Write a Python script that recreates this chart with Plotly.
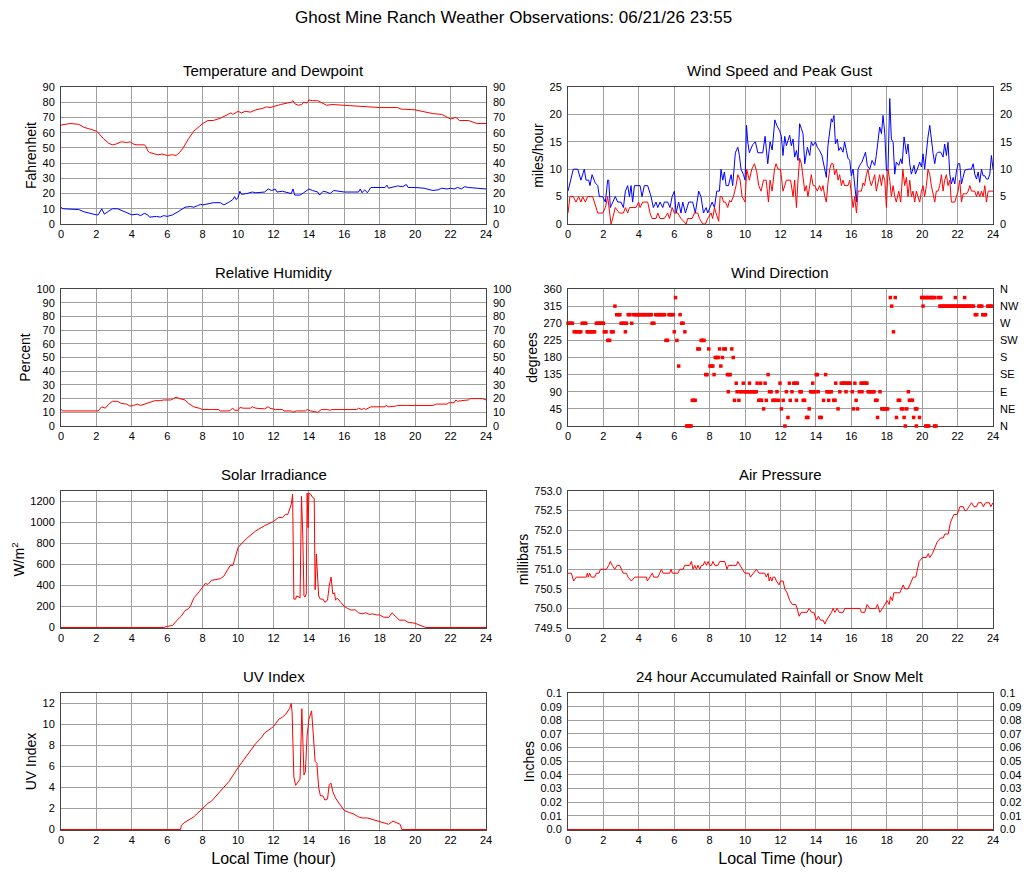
import plotly.graph_objects as go

# ---------------- DATA ----------------
temp_t = [0, 0.5, 1.0, 1.3, 1.6, 2.0, 2.1, 2.4, 2.7, 2.9, 3.1, 3.4, 3.7, 3.9, 4.1, 4.3, 4.7, 4.8, 4.9, 5.0,
          5.3, 5.5, 5.7, 5.9, 6.0, 6.3, 6.5, 6.7, 6.9, 7.2, 7.5, 7.8, 8.0, 8.3, 8.6, 9.0, 9.3, 9.6, 9.7, 10.0,
          10.2, 10.4, 10.7, 11.0, 11.4, 11.6, 11.8, 12.0, 12.4, 12.8, 13.0, 13.1, 13.2, 13.4, 13.6, 13.7, 13.9,
          14.0, 14.2, 14.5, 14.8, 15.0, 15.3, 16.0, 17.0, 18.0, 19.0, 19.2, 20.0, 20.5, 21.0, 21.5, 22.0, 22.3,
          22.5, 23.0, 23.5, 24.0]
temp_f = [65, 66, 65.5, 63.5, 62.5, 61, 60, 56, 53, 52, 52.5, 54, 53.5, 54, 52.5, 52, 52, 51, 48, 47,
          46, 45.5, 46, 45, 45, 45.5, 45, 47, 50, 56, 61, 64, 66, 68, 68, 69.5, 71, 73, 72, 74,
          73, 74, 73.5, 75, 76, 77, 76.5, 77, 78.5, 79.5, 80, 81, 79, 78, 78.5, 80, 79.5,
          81.5, 81, 81, 79, 78, 78.5, 78, 77, 76.5, 76.5, 75.5, 75, 74, 72.5, 72, 69, 70,
          68, 68, 66, 66]

dew_t = [0, 0.1, 1.0, 1.3, 2.0, 2.1, 2.3, 2.45, 2.7, 2.9, 3.2, 3.5, 3.8, 4.0, 4.3, 4.5, 4.7, 4.9, 5.0, 5.4,
         5.6, 5.8, 6.0, 6.3, 6.6, 6.9, 7.0, 7.3, 7.5, 7.7, 7.9, 8.0, 8.3, 8.6, 9.0, 9.2, 9.5, 9.7, 9.8, 9.9,
         10.0, 10.1, 10.2, 10.5, 10.8, 11.0, 11.5, 11.7, 11.9, 12.1, 12.2, 12.5, 13.0, 13.1, 13.2, 13.5, 13.7,
         14.0, 14.2, 14.5, 14.6, 14.8, 15.0, 15.2, 15.4, 16.0, 16.5, 16.8, 16.9, 17.0, 17.15, 17.3, 17.5, 18.0,
         18.3, 18.4, 18.5, 19.0, 19.3, 19.5, 19.6, 20.0, 20.5, 21.0, 21.3, 21.5, 21.8, 22.0, 22.2, 22.4, 22.6,
         22.8, 23.0, 23.5, 24.0]
dew_f = [11, 10, 9.5, 8, 6, 6, 10, 6.5, 8.5, 10, 10, 8.5, 7.5, 6, 6.5, 5.5, 7, 6, 4.5, 5,
         4.5, 5.5, 5, 6, 8, 10, 11, 11.5, 11, 12, 13, 12.5, 13.5, 14, 14, 12.5, 14.5, 16, 18, 16,
         17.5, 21.5, 19.5, 20, 21, 20.5, 21, 23, 22, 23, 21, 21.5, 20, 23, 19, 19, 20.5,
         23, 22, 21, 19, 21.5, 21, 20, 22, 21, 21, 21, 23, 20.5, 22.5, 20.5, 24, 24,
         24, 25.5, 23.5, 25, 24.5, 26, 24, 24, 23.5, 22, 22.5, 23.5, 23, 23.5, 23, 24, 23,
         24.5, 24, 23.5, 23]

gust_t = [0, 0.17, 0.3, 0.55, 0.73, 0.92, 1.02, 1.17, 1.24, 1.36, 1.54, 1.68, 1.77, 1.96, 2.11, 2.24, 2.3, 2.39,
          2.52, 2.67, 2.81, 2.99, 3.13, 3.24, 3.37, 3.47, 3.56, 3.65, 3.75, 3.94, 4.07, 4.18, 4.31, 4.5, 4.69,
          4.82, 4.97, 5.07, 5.2, 5.35, 5.44, 5.63, 5.76, 5.88, 6.01, 6.1, 6.25, 6.38, 6.48, 6.63, 6.82, 7.04,
          7.19, 7.38, 7.51, 7.65, 7.8, 7.89, 8.02, 8.14, 8.27, 8.4, 8.55, 8.64, 8.74, 8.83, 8.93, 9.06, 9.21,
          9.3, 9.45, 9.59, 9.68, 9.77, 9.91, 10.0, 10.08, 10.15, 10.24, 10.43, 10.58, 10.72, 11.0, 11.13, 11.28,
          11.41, 11.53, 11.68, 11.79, 11.95, 12.05, 12.14, 12.24, 12.33, 12.42, 12.52, 12.61, 12.71, 12.8, 12.9,
          12.99, 13.08, 13.18, 13.27, 13.37, 13.52, 13.65, 13.74, 13.84, 13.97, 14.08, 14.21, 14.34, 14.5, 14.59,
          14.68, 14.78, 14.87, 14.93, 15.02, 15.1, 15.21, 15.29, 15.4, 15.53, 15.62, 15.72, 15.81, 15.91, 16.0,
          16.1, 16.19, 16.29, 16.38, 16.47, 16.6, 16.72, 16.8, 16.9, 17.04, 17.17, 17.32, 17.41, 17.51, 17.6,
          17.7, 17.79, 17.89, 17.98, 18.07, 18.17, 18.26, 18.36, 18.45, 18.54, 18.68, 18.79, 18.87, 18.98, 19.11,
          19.2, 19.3, 19.39, 19.54, 19.62, 19.77, 19.86, 19.96, 20.05, 20.14, 20.24, 20.33, 20.43, 20.52, 20.62,
          20.71, 20.8, 20.9, 21.05, 21.18, 21.27, 21.37, 21.46, 21.56, 21.65, 21.75, 21.84, 21.93, 22.03, 22.12,
          22.22, 22.31, 22.41, 22.6, 22.78, 22.88, 22.97, 23.07, 23.16, 23.25, 23.35, 23.44, 23.54, 23.63, 23.73,
          23.82, 23.91, 24.0]
gust_mph = [6, 8.5, 10, 10, 8, 10, 8, 8, 7, 9, 7.5, 7, 5, 5, 4, 8, 8, 3,
            4, 5, 4, 4, 3, 6, 7, 5, 7, 4, 7, 7, 7, 5, 7, 7, 5,
            3, 4, 3, 4, 3, 4, 4, 3, 5, 6, 2, 4, 2, 4, 2, 4, 4,
            2, 6, 5, 2, 3, 2, 3, 4, 3, 6, 6, 10, 8, 9.5, 7, 7, 9,
            7, 13, 14, 12.5, 10, 9, 8, 18, 15, 13, 14.5, 15, 13, 13, 16, 11,
            15, 13.5, 19, 18, 17, 16, 12.5, 16, 14.3, 15.2, 16.2, 14.3, 15.5, 12.2, 13.4,
            11.6, 18.3, 17.4, 16.5, 11, 14, 12.5, 15, 14.3, 15, 14, 13.4, 12.5, 9.8, 8.5,
            14.3, 16.5, 19.2, 18.6, 19.8, 14.6, 15.5, 13.4, 14, 13.1, 15, 13.4, 12, 11.6, 8.8,
            10, 7.3, 4, 10, 10.7, 11.3, 12.2, 13.1, 10.7, 10, 11.6, 10.7, 12.5, 15.5, 17.7,
            16.5, 19.8, 16.5, 9.8, 9.8, 22.9, 15.5, 14.9, 9.1, 11.3, 10.7, 11.9, 11, 15.9, 12.8,
            14.6, 11, 9.1, 10.7, 9.1, 10.4, 11.3, 10.4, 12.8, 10, 13.4, 15.9, 18, 15.2, 12.8,
            11, 12.8, 13.1, 13.1, 12.2, 14.6, 12.5, 14.9, 9.1, 7.3, 8.5, 7.3, 9.5, 11, 11,
            7.3, 8.5, 9.8, 10, 10, 11, 9.1, 8.2, 9.5, 7.6, 10, 8.8, 8.8, 8.2, 8.2,
            9.1, 12.5, 10]

wind_t = [0, 0.11, 0.3, 0.45, 0.6, 0.73, 0.83, 0.98, 1.11, 1.39, 1.49, 1.68, 1.96, 2.11, 2.24, 2.3, 2.43, 2.52,
          2.67, 2.9, 3.13, 3.24, 3.37, 3.47, 3.65, 3.84, 3.99, 4.07, 4.22, 4.5, 4.63, 4.75, 4.97, 5.07, 5.2,
          5.44, 5.63, 5.73, 5.88, 6.01, 6.2, 6.38, 6.67, 6.76, 7.01, 7.14, 7.33, 7.42, 7.61, 7.76, 7.89, 8.08,
          8.17, 8.27, 8.36, 8.51, 8.59, 8.7, 8.78, 8.89, 9.02, 9.12, 9.21, 9.34, 9.49, 9.59, 9.72, 9.83, 10.0,
          10.09, 10.24, 10.38, 10.53, 10.66, 10.77, 10.9, 11.04, 11.19, 11.32, 11.41, 11.53, 11.66, 11.75, 11.86,
          12.0, 12.14, 12.24, 12.33, 12.57, 12.71, 12.8, 12.9, 12.99, 13.08, 13.18, 13.27, 13.37, 13.46, 13.55,
          13.65, 13.74, 13.84, 13.93, 14.08, 14.21, 14.31, 14.4, 14.5, 14.59, 14.68, 14.78, 14.87, 14.97, 15.06,
          15.16, 15.25, 15.34, 15.44, 15.53, 15.62, 15.81, 15.91, 16.0, 16.1, 16.19, 16.29, 16.38, 16.57, 16.66,
          16.75, 16.85, 16.94, 17.04, 17.13, 17.23, 17.32, 17.41, 17.51, 17.6, 17.7, 17.79, 17.89, 17.98, 18.07,
          18.17, 18.26, 18.36, 18.45, 18.54, 18.68, 18.79, 18.91, 19.01, 19.11, 19.2, 19.3, 19.39, 19.48, 19.58,
          19.67, 19.77, 19.86, 19.96, 20.05, 20.14, 20.24, 20.33, 20.43, 20.52, 20.62, 20.71, 20.8, 20.9, 20.99,
          21.09, 21.18, 21.27, 21.37, 21.46, 21.56, 21.65, 21.84, 22.03, 22.12, 22.22, 22.31, 22.5, 22.6, 22.69,
          22.78, 22.97, 23.07, 23.16, 23.25, 23.35, 23.44, 23.54, 23.63, 23.73, 24.0]
wind_mph = [2, 5, 5, 4, 5, 4, 5, 4, 5, 5, 4, 2, 2, 3, 5, 3, 0, 1,
            3, 2, 2, 3, 2, 3, 3, 3, 4, 3, 4, 4, 2, 1, 1, 2, 1,
            1, 2, 1, 3, 2, 2, 1, 0, 1, 1, 2, 2, 1, 0, 0, 1, 2,
            1, 3, 2, 0.5, 5, 5, 4, 4, 3, 4.3, 4, 5, 7, 9, 8, 5, 4,
            10, 8, 10, 11, 9.5, 7, 6, 8, 8, 4, 8, 6, 10, 11, 10,
            10, 6, 7, 8, 8, 5, 8, 3, 8, 12, 11, 9, 6, 7, 5,
            7, 9, 7, 7, 6, 7, 6, 7, 5, 4, 7.5, 10, 11, 11, 9,
            10, 8, 9, 7, 8, 7, 7, 8, 5, 3, 5, 2, 6, 6, 7.5,
            7, 9, 10, 8, 7, 8, 9, 6, 8, 9, 7, 9, 8, 3, 10,
            8, 5, 7, 5, 4, 6, 4, 10, 7, 8.5, 5, 8, 5, 6, 4,
            6, 5, 4, 6, 7, 5, 7, 10, 9, 7, 5, 4, 6, 6, 7,
            9, 6, 8, 9, 7, 8, 4, 4, 6, 8, 4, 5.5, 5.5, 6, 7,
            6, 6, 5, 6, 5, 6, 5, 7, 4, 6, 6]

rh_t = [0, 0.1, 2.0, 2.1, 2.3, 2.5, 2.7, 2.9, 3.2, 3.4, 3.7, 3.9, 4.1, 4.3, 4.5, 4.7, 5.0, 5.3, 5.6, 5.8,
        6.2, 6.5, 6.7, 7.0, 7.2, 7.5, 7.8, 8.0, 8.5, 8.9, 9.0, 9.5, 9.7, 9.8, 10.0, 10.1, 10.3, 10.7, 10.8,
        11.0, 11.5, 11.7, 11.8, 12.0, 12.1, 12.5, 12.6, 13.0, 13.1, 13.3, 13.8, 13.9, 14.1, 14.5, 14.7, 15.0,
        15.2, 15.3, 16.0, 16.7, 16.8, 17.0, 17.1, 17.2, 17.5, 18.0, 18.3, 18.35, 18.5, 18.9, 19.0, 19.5, 20.0,
        21.0, 21.2, 21.8, 21.9, 22.2, 22.3, 22.4, 22.6, 23.0, 23.1, 23.8, 24.0]
rh_pct = [12, 11, 11, 11, 14, 13, 16, 18, 18, 16.5, 16, 14.5, 15, 16, 15, 16, 17, 18.5, 18.5, 19,
          19, 21, 20, 19, 16.5, 14, 13, 12, 12, 12, 11, 11, 13, 11.5, 11.5, 13.5, 13, 13, 14,
          13, 12.5, 14, 13, 12.5, 12, 12, 11, 11, 10, 11, 11, 12, 11, 10, 12, 12,
          11.5, 12, 12, 12, 13, 12, 13, 12, 14, 14, 14, 15, 14, 14.5, 15, 15, 15,
          15, 16, 16, 17, 17, 19, 18, 18.5, 19, 20, 20, 19]

wd_t = [0.0, 0.08, 0.17, 0.25, 0.35, 0.45, 0.55, 0.65, 0.72, 0.8, 0.9, 1.0, 1.08, 1.17, 1.25, 1.33, 1.42, 1.5,
        1.6, 1.68, 1.77, 1.85, 1.93, 2.0, 2.05, 2.15, 2.25, 2.35, 2.45, 2.55, 2.65, 2.75, 2.85, 2.93,
        3.0, 3.1, 3.2, 3.3, 3.24, 3.4, 3.5, 3.6, 3.7, 3.78, 3.87, 3.95, 4.03, 4.12, 4.2, 4.28, 4.37, 4.45,
        4.53, 4.62, 4.7, 4.75, 4.85, 4.95, 5.03, 5.12, 5.2, 5.28, 5.37, 5.45, 5.53, 5.62, 5.7, 5.78, 5.87,
        5.95, 6.0, 6.07, 6.15, 6.25, 6.33, 6.42, 6.5, 6.6, 6.7, 6.78, 6.87, 6.95, 7.02, 7.1, 7.18, 7.33,
        7.42, 7.52, 7.6, 7.68, 7.78, 7.85, 7.95, 8.02, 8.1, 8.18, 8.25, 8.32, 8.4, 8.48, 8.56, 8.63, 8.72,
        8.8, 8.88, 9.0, 9.08, 9.16, 9.05, 9.25, 9.33, 9.4, 9.5, 9.55, 9.65, 9.72, 9.8, 9.9, 9.95, 10.03,
        10.12, 10.2, 10.25, 10.3, 10.38, 10.47, 10.55, 10.63, 10.68, 10.77, 10.85, 10.93, 10.88, 11.05, 11.13,
        11.2, 11.3, 11.38, 11.47, 11.57, 11.65, 11.73, 11.8, 11.88, 11.97, 12.05, 12.15, 12.25, 12.33, 12.42,
        12.5, 12.55, 12.65, 12.75, 12.85, 12.95, 12.9, 13.1, 13.17, 13.28, 13.36, 13.47, 13.55, 13.62, 13.7,
        13.78, 13.87, 13.95, 13.82, 14.02, 14.08, 14.13, 14.22, 14.3, 14.43, 14.55, 14.62, 14.7, 14.78, 14.87,
        14.72, 15.0, 15.08, 15.12, 15.25, 15.35, 15.43, 15.52, 15.6, 15.68, 15.77, 15.85, 15.93, 15.7, 16.05,
        16.12, 16.2, 16.27, 16.35, 16.45, 16.55, 16.63, 16.72, 16.8, 16.88, 16.6, 16.95, 17.03, 17.12, 17.2,
        17.28, 17.37, 17.45, 17.48, 17.62, 17.72, 17.8, 17.88, 17.97, 18.05, 18.2, 18.48, 18.28, 18.38, 18.55,
        18.65, 18.73, 18.83, 18.92, 18.98, 19.05, 19.13, 19.22, 19.28, 19.37, 19.45, 19.52, 19.62, 19.7, 19.67,
        19.85, 19.97, 20.05, 20.13, 20.22, 20.3, 20.38, 20.47, 20.55, 20.63, 20.72, 20.93, 21.05, 20.05, 20.2,
        20.28, 20.37, 20.7, 20.78, 21.0, 21.08, 21.17, 21.25, 21.33, 21.42, 21.5, 21.58, 21.67, 21.75, 21.83,
        21.92, 22.0, 22.08, 22.17, 22.25, 22.33, 22.42, 22.5, 22.58, 22.67, 22.75, 22.83, 22.9, 21.87, 22.4,
        23.0, 23.08, 23.2, 23.28, 23.37, 23.42, 23.5, 23.58, 23.7, 23.78, 23.87, 23.95]
wd_deg = [270, 270, 270, 270, 247.5, 247.5, 247.5, 247.5, 247.5, 270, 270, 270, 247.5, 247.5, 247.5, 247.5, 247.5, 247.5,
          270, 270, 270, 270, 270, 270, 247.5, 247.5, 225, 225, 247.5, 247.5, 315, 292.5, 292.5, 292.5,
          270, 270, 270, 270, 247.5, 292.5, 292.5, 270, 292.5, 292.5, 292.5, 292.5, 292.5, 292.5, 292.5, 292.5, 292.5, 292.5,
          292.5, 292.5, 292.5, 270, 270, 292.5, 292.5, 292.5, 292.5, 292.5, 292.5, 292.5, 225, 225, 292.5, 292.5, 292.5,
          292.5, 247.5, 337.5, 225, 157.5, 292.5, 270, 270, 247.5, 0, 0, 0, 0, 67.5, 67.5, 67.5, 202.5,
          202.5, 225, 225, 225, 135, 135, 202.5, 157.5, 157.5, 157.5, 135, 180, 180, 180, 202.5, 157.5, 180,
          202.5, 202.5, 135, 135, 135, 90, 202.5, 180, 67.5, 112.5, 90, 67.5, 90, 90, 112.5, 90, 90,
          90, 90, 112.5, 90, 90, 90, 90, 90, 112.5, 67.5, 67.5, 67.5, 112.5, 45, 112.5,
          67.5, 135, 90, 90, 67.5, 67.5, 67.5, 90, 67.5, 112.5, 45, 67.5, 0, 90, 22.5,
          112.5, 67.5, 90, 112.5, 112.5, 112.5, 67.5, 90, 90, 67.5, 67.5, 22.5, 22.5, 45, 90,
          90, 90, 90, 112.5, 135, 135, 90, 22.5, 22.5, 67.5, 135, 90, 90, 90, 90,
          67.5, 67.5, 67.5, 112.5, 45, 90, 112.5, 112.5, 112.5, 112.5, 112.5, 112.5, 112.5, 90, 90,
          45, 112.5, 67.5, 45, 90, 112.5, 112.5, 112.5, 112.5, 112.5, 90, 90, 90, 90, 90,
          90, 67.5, 67.5, 22.5, 90, 45, 45, 45, 45, 45, 337.5, 337.5, 315, 247.5, 22.5,
          67.5, 67.5, 45, 45, 22.5, 0, 45, 90, 67.5, 67.5, 67.5, 22.5, 45, 45, 0,
          22.5, 337.5, 337.5, 337.5, 337.5, 337.5, 337.5, 337.5, 337.5, 337.5, 337.5, 337.5, 337.5, 315, 0,
          0, 0, 0, 0, 315, 315, 315, 315, 315, 315, 315, 315, 315, 315, 315,
          315, 315, 315, 315, 315, 315, 315, 315, 315, 315, 315, 315, 315, 337.5, 337.5,
          292.5, 292.5, 315, 315, 315, 292.5, 292.5, 292.5, 315, 315, 315, 315]

solar_t = [0, 5.8, 6.0, 6.3, 6.5, 6.8, 7.0, 7.2, 7.3, 7.5, 7.8, 8.0, 8.15, 8.3, 8.5, 8.7, 9.0, 9.2, 9.4, 9.55,
           9.7, 9.8, 10.0, 10.2, 10.5, 11.0, 11.5, 12.0, 12.3, 12.5, 12.7, 12.8, 13.0, 13.08, 13.12, 13.15,
           13.25, 13.3, 13.45, 13.5, 13.58, 13.65, 13.72, 13.78, 13.85, 13.9, 13.95, 14.0, 14.1, 14.2, 14.3,
           14.35, 14.42, 14.48, 14.55, 14.65, 14.8, 14.9, 15.05, 15.15, 15.25, 15.35, 15.45, 15.5, 15.6, 15.8,
           16.0, 16.2, 16.4, 16.6, 16.8, 17.0, 17.2, 17.4, 17.6, 17.8, 18.0, 18.2, 18.5, 18.7, 18.9, 19.1,
           19.4, 19.6, 20.0, 20.3, 20.6, 24.0]
solar_wm2 = [0, 0, 10, 20, 60, 110, 160, 180, 200, 280, 340, 390, 420, 410, 450, 455, 465, 490, 540, 590,
             590, 640, 760, 800, 850, 920, 970, 1010, 1050, 1045, 1080, 1075, 1170, 1270, 560, 270,
             270, 300, 290, 280, 1250, 900, 300, 290, 320, 1280, 950, 1280, 1270, 1240, 1230,
             360, 700, 450, 300, 270, 270, 240, 260, 400, 480, 320, 330, 260, 280, 240,
             200, 180, 165, 170, 140, 130, 140, 125, 130, 120, 120, 100, 95, 140, 100, 70,
             70, 50, 40, 20, 0, 0]

pres_t = [0, 0.19, 0.32, 0.47, 1.04, 1.09, 1.15, 1.22, 1.32, 1.51, 1.6, 1.75, 1.83, 2.17, 2.3, 2.39, 2.5, 2.64,
          2.77, 2.92, 3.11, 3.3, 3.39, 3.58, 3.77, 4.43, 4.48, 4.61, 4.76, 4.84, 5.08, 5.18, 5.27, 5.37, 5.74,
          5.82, 5.89, 6.21, 6.31, 6.5, 6.59, 6.87, 6.97, 7.06, 7.16, 7.25, 7.34, 7.44, 7.53, 7.63, 7.72, 7.82,
          7.91, 8.0, 8.1, 8.19, 8.29, 8.47, 8.57, 8.85, 8.98, 9.06, 9.51, 9.59, 9.7, 9.85, 9.98, 10.23, 10.3,
          10.45, 10.64, 10.79, 11.11, 11.2, 11.3, 11.36, 11.43, 11.51, 11.58, 11.68, 11.77, 11.92, 12.0, 12.15,
          12.24, 12.37, 12.52, 12.67, 12.86, 12.94, 13.05, 13.18, 13.5, 13.62, 13.75, 13.88, 14.03, 14.14, 14.26,
          14.41, 14.5, 14.6, 14.75, 14.88, 14.97, 15.07, 15.2, 15.31, 15.54, 15.63, 16.48, 16.57, 16.76, 16.89,
          17.04, 17.38, 17.48, 17.61, 17.76, 17.89, 18.02, 18.14, 18.21, 18.32, 18.4, 18.74, 18.93, 19.02, 19.21,
          19.49, 19.64, 19.83, 20.02, 20.24, 20.34, 20.43, 20.58, 20.85, 21.04, 21.19, 21.28, 21.47, 21.6, 21.79,
          21.98, 22.13, 22.32, 22.41, 22.5, 22.64, 22.79, 22.92, 23.07, 23.16, 23.35, 23.45, 23.58, 23.79, 23.88, 24.0]
pres_mb = [750.9, 750.9, 750.7, 750.8, 750.8, 750.9, 750.8, 750.9, 750.8, 750.8, 750.9, 750.9, 751.0, 751.0, 751.1,
           751.2, 751.1, 751.0, 751.1, 751.1, 750.9, 750.9, 750.8, 750.7, 750.8, 750.8, 750.7, 750.8, 750.9, 750.8,
           750.8, 750.9, 751.0, 750.9, 750.9, 751.0, 750.9, 750.9, 751.0, 751.0, 751.1, 751.1, 751.2, 751.0, 751.1,
           751.0, 751.1, 751.0, 751.1, 751.1, 751.2, 751.1, 751.2, 751.1, 751.1, 751.2, 751.1, 751.1, 751.2, 751.2,
           751.0, 751.1, 751.1, 751.2, 751.1, 751.0, 750.9, 750.9, 750.8, 750.9, 751.0, 750.9, 750.9, 750.8, 750.9,
           750.7, 750.8, 750.7, 750.8, 750.8, 750.7, 750.6, 750.7, 750.7, 750.5, 750.4, 750.2, 750.1, 750.1, 750.0,
           749.8, 749.9, 749.9, 750.0, 749.9, 749.9, 749.7, 749.8, 749.7, 749.7, 749.6, 749.7, 749.8, 749.9, 750.0,
           749.9, 750.0, 749.9, 749.9, 750.0, 750.0, 749.9, 749.9, 750.1, 750.0, 750.0, 750.1, 749.9, 750.0, 750.1,
           750.2, 750.1, 750.3, 750.2, 750.4, 750.4, 750.6, 750.5, 750.5, 750.8, 750.8, 751.2, 751.3, 751.3, 751.4,
           751.3, 751.4, 751.7, 751.8, 751.8, 751.9, 751.9, 752.2, 752.4, 752.4, 752.6, 752.6, 752.5, 752.5, 752.6,
           752.7, 752.6, 752.6, 752.7, 752.7, 752.6, 752.7, 752.7, 752.6, 752.7]

uv_t = [0, 6.75, 6.8, 7.0, 7.5, 8.0, 8.3, 8.5, 9.0, 9.5, 10.0, 10.5, 11.0, 11.3, 11.5, 12.0, 12.3, 12.5, 12.7,
        12.9, 13.0, 13.05, 13.1, 13.15, 13.25, 13.4, 13.5, 13.6, 13.67, 13.72, 13.8, 13.9, 14.0, 14.1, 14.15,
        14.25, 14.35, 14.45, 14.55, 14.65, 14.8, 14.9, 15.05, 15.15, 15.25, 15.35, 15.5, 15.7, 15.9, 16.0,
        16.3, 16.5, 16.8, 17.0, 17.3, 17.5, 18.0, 18.2, 18.5, 18.75, 19.0, 19.15, 19.25, 24.0]
uv_idx = [0, 0, 0.4, 0.7, 1.2, 2.0, 2.5, 2.7, 3.6, 4.6, 5.9, 7.0, 8.2, 8.7, 9.2, 9.8, 10.5, 10.7, 11.0,
          11.5, 12.0, 11.2, 8.0, 5.0, 4.2, 4.5, 4.8, 11.5, 8.0, 5.2, 5.5, 9.0, 10.5, 11.2, 11.3,
          9.0, 6.5, 6.3, 4.0, 3.2, 3.2, 2.8, 2.9, 4.3, 4.4, 3.6, 3.0, 2.5, 2.1, 1.8,
          1.6, 1.5, 1.2, 1.1, 1.1, 1.0, 0.8, 0.7, 0.5, 0.8, 0.6, 0.5, 0, 0]

rain_t = [0, 6, 12, 18, 24]
rain_in = [0, 0, 0, 0, 0]

hour_ticks = list(range(0, 25, 2))
wd_ticks = [0, 45, 90, 135, 180, 225, 270, 315, 360]
wd_labels = ["N", "NE", "E", "SE", "S", "SW", "W", "NW", "N"]
rain_ticks = [0, 0.01, 0.02, 0.03, 0.04, 0.05, 0.06, 0.07, 0.08, 0.09, 0.1]
rain_labels = ["0.0", "0.01", "0.02", "0.03", "0.04", "0.05", "0.06", "0.07", "0.08", "0.09", "0.1"]

# ---------------- LAYOUT ----------------
W, H = 1027, 878
FONT = "Liberation Sans, Arial, Helvetica, sans-serif"
GRID = "#a0a0a0"
FRAME = "#444444"

XL = [61 / W, 486 / W]
XR = [568 / W, 993 / W]
PLOT_H = 137  # plot-area height in pixels
def ydom(top, bot):
    return [1 - bot / H, 1 - top / H]
ROWS = [ydom(87, 224), ydom(289, 426), ydom(491, 628), ydom(693, 830)]

def lift(lo, hi):
    # start the range half a pixel below lo so a zero-valued line stays visible above the frame
    return [lo - 0.5 * (hi - lo) / PLOT_H, hi]

RED = "#ff0000"
BLUE = "#0000ff"

fig = go.Figure()

def line(x, y, color, xa, ya, width=1):
    fig.add_trace(go.Scatter(x=x, y=y, mode="lines", line=dict(color=color, width=width),
                             xaxis=xa, yaxis=ya, showlegend=False, hoverinfo="x+y"))

def dummy(xa, ya):
    fig.add_trace(go.Scatter(x=[None], y=[None], mode="lines", xaxis=xa, yaxis=ya,
                             showlegend=False, hoverinfo="skip"))

line(temp_t, temp_f, RED, "x", "y")
line(dew_t, dew_f, BLUE, "x", "y")
line(gust_t, gust_mph, BLUE, "x2", "y2")
line(wind_t, wind_mph, RED, "x2", "y2")
line(rh_t, rh_pct, RED, "x3", "y3")
fig.add_trace(go.Scatter(x=wd_t, y=wd_deg, mode="markers",
                         marker=dict(color=RED, size=3.5, symbol="square", line=dict(width=0)),
                         xaxis="x4", yaxis="y4", showlegend=False, cliponaxis=False))
line(solar_t, solar_wm2, RED, "x5", "y5")
line(pres_t, pres_mb, RED, "x6", "y6")
line(uv_t, uv_idx, RED, "x7", "y7")
line(rain_t, rain_in, RED, "x8", "y8")

dummy("x", "y9")
dummy("x2", "y10")
dummy("x3", "y11")
dummy("x4", "y12")
dummy("x8", "y13")

tickfont = dict(family=FONT, size=11, color="#000")
titlefont = dict(family=FONT, size=14, color="#000")

def xax(dom, anchor, title=None):
    d = dict(domain=dom, anchor=anchor, range=[0, 24], tickvals=hour_ticks,
             showgrid=True, gridcolor=GRID, gridwidth=1, zeroline=False,
             showline=True, mirror=True, linecolor=FRAME, linewidth=1, layer="below traces",
             ticks="", tickfont=tickfont, fixedrange=True, automargin=False)
    if title:
        d["title"] = dict(text=title, font=dict(family=FONT, size=16, color="#000"), standoff=7)
    return d

def yax(dom, anchor, rng, title, tickvals=None, ticktext=None, fmt=None, standoff=2):
    d = dict(domain=dom, anchor=anchor, range=rng, showgrid=True, gridcolor=GRID, gridwidth=1,
             zeroline=False, showline=True, mirror=True, linecolor=FRAME, linewidth=1,
             ticks="", tickfont=tickfont, fixedrange=True, ticklabelstandoff=3, automargin=False,
             title=dict(text=title, font=titlefont, standoff=standoff))
    if tickvals is not None:
        d["tickvals"] = tickvals
    if ticktext is not None:
        d["ticktext"] = ticktext
    if fmt:
        d["tickformat"] = fmt
    return d

def yright(over, anchor, rng, tickvals, ticktext=None):
    d = dict(overlaying=over, anchor=anchor, side="right", range=rng, tickvals=tickvals,
             showgrid=False, zeroline=False, showline=False, ticks="", tickfont=tickfont,
             fixedrange=True, ticklabelstandoff=6, automargin=False)
    if ticktext is not None:
        d["ticktext"] = ticktext
    return d

temp_ticks = list(range(0, 91, 10))
ws_ticks = list(range(0, 26, 5))
rh_ticks = list(range(0, 101, 10))
solar_ticks = list(range(0, 1201, 200))
pres_ticks = [749.5, 750.0, 750.5, 751.0, 751.5, 752.0, 752.5, 753.0]
uv_ticks = list(range(0, 13, 2))

fig.update_layout(
    width=W, height=H,
    margin=dict(l=0, r=0, t=0, b=0, autoexpand=False),
    paper_bgcolor="white", plot_bgcolor="white",
    font=dict(family=FONT, color="#000"),
    showlegend=False,
    xaxis=xax(XL, "y"),
    xaxis2=xax(XR, "y2"),
    xaxis3=xax(XL, "y3"),
    xaxis4=xax(XR, "y4"),
    xaxis5=xax(XL, "y5"),
    xaxis6=xax(XR, "y6"),
    xaxis7=xax(XL, "y7", "Local Time (hour)"),
    xaxis8=xax(XR, "y8", "Local Time (hour)"),
    yaxis=yax(ROWS[0], "x", [0, 90], "Fahrenheit", temp_ticks),
    yaxis2=yax(ROWS[0], "x2", [0, 25], "miles/hour", ws_ticks),
    yaxis3=yax(ROWS[1], "x3", [0, 100], "Percent", rh_ticks),
    yaxis4=yax(ROWS[1], "x4", [0, 360], "degrees", wd_ticks),
    yaxis5=yax(ROWS[2], "x5", lift(0, 1300), "W/m<sup>2</sup>", solar_ticks),
    yaxis6=yax(ROWS[2], "x6", [749.5, 753.0], "millibars", pres_ticks, fmt=".1f"),
    yaxis7=yax(ROWS[3], "x7", lift(0, 13), "UV Index", uv_ticks),
    yaxis8=yax(ROWS[3], "x8", lift(0, 0.1), "Inches", rain_ticks, rain_labels),
    yaxis9=yright("y", "x", [0, 90], temp_ticks),
    yaxis10=yright("y2", "x2", [0, 25], ws_ticks),
    yaxis11=yright("y3", "x3", [0, 100], rh_ticks),
    yaxis12=yright("y4", "x4", [0, 360], wd_ticks, wd_labels),
    yaxis13=yright("y8", "x8", lift(0, 0.1), rain_ticks, rain_labels),
)

def ann(text, x, y, size):
    fig.add_annotation(text=text, x=x, y=y, xref="paper", yref="paper", xanchor="center",
                       yanchor="middle", showarrow=False, font=dict(family=FONT, size=size, color="#000"))

ann("Ghost Mine Ranch Weather Observations: 06/21/26 23:55", 0.5, 1 - 18 / H, 17)
titles = [("Temperature and Dewpoint", "Wind Speed and Peak Gust"),
          ("Relative Humidity", "Wind Direction"),
          ("Solar Irradiance", "Air Pressure"),
          ("UV Index", "24 hour Accumulated Rainfall or Snow Melt")]
title_y = [70, 272, 474, 676]
for (lt, rt), ty in zip(titles, title_y):
    ann(lt, sum(XL) / 2, 1 - ty / H, 15)
    ann(rt, sum(XR) / 2, 1 - ty / H, 15)

fig.write_html("out.html", config={"displayModeBar": False},
               post_script="document.body.style.margin='0';document.body.style.overflow='hidden';")
